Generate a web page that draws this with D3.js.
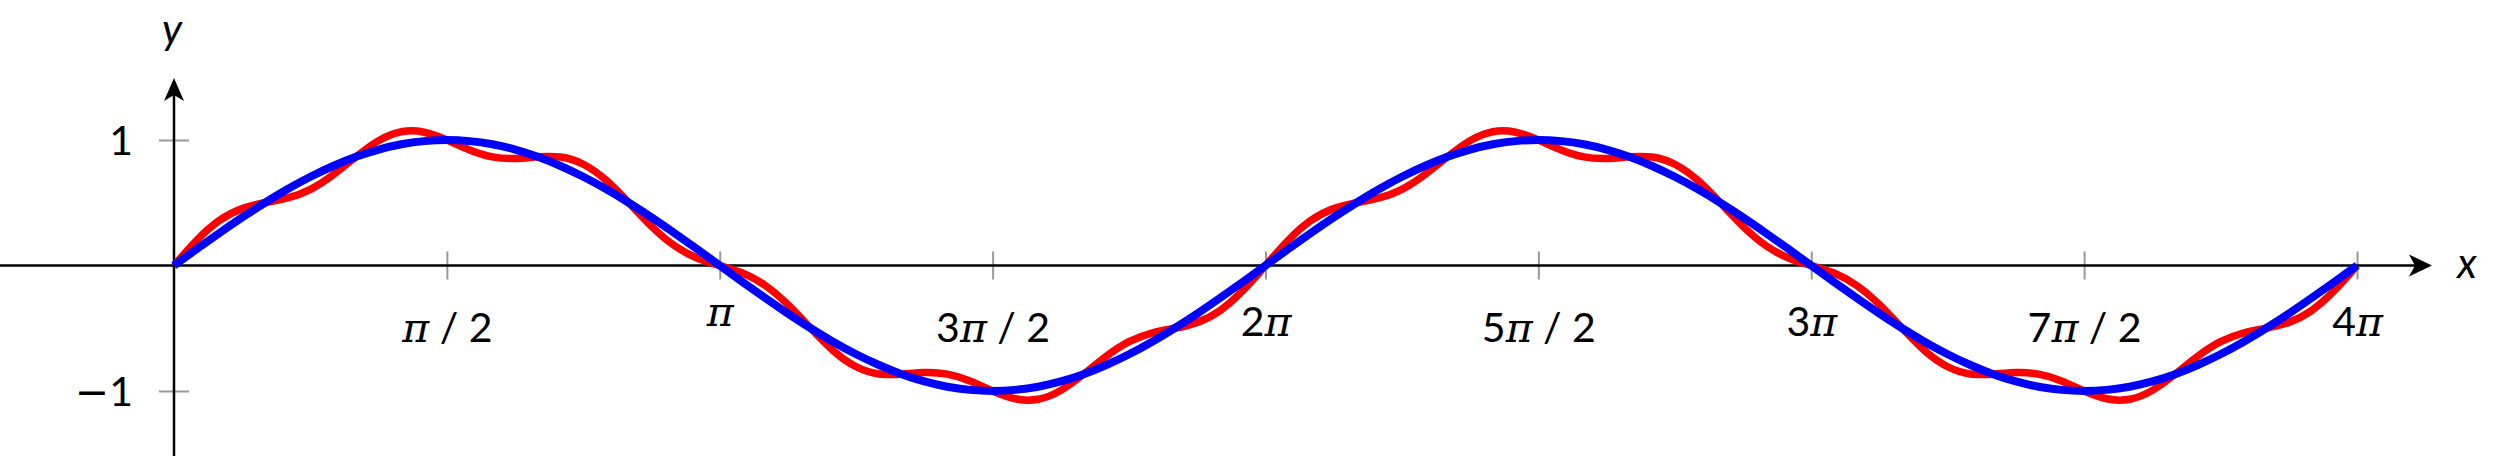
<!DOCTYPE html>
<meta charset="utf-8">
<script src="https://d3js.org/d3.v7.min.js"></script>
<style>
  body { margin: 0; background: #fff; }
  text { font-family: Lato, "Open Sans", sans-serif; fill: #000; }
</style>
<div id="chart"></div>
<script>
// samples every pi/24 from 0 to 4pi
var blueVals = [
  0, 0.131, 0.259, 0.383, 0.5, 0.609, 0.707, 0.793, 0.866, 0.924, 0.966, 0.991, 1, 0.991, 0.966, 0.924, 0.866, 0.793, 0.707, 0.609, 0.5, 0.383, 0.259, 0.131, 0,
  -0.131, -0.259, -0.383, -0.5, -0.609, -0.707, -0.793, -0.866, -0.924, -0.966, -0.991, -1, -0.991, -0.966, -0.924, -0.866, -0.793, -0.707, -0.609, -0.5, -0.383, -0.259, -0.131, 0,
  0.131, 0.259, 0.383, 0.5, 0.609, 0.707, 0.793, 0.866, 0.924, 0.966, 0.991, 1, 0.991, 0.966, 0.924, 0.866, 0.793, 0.707, 0.609, 0.5, 0.383, 0.259, 0.131, 0,
  -0.131, -0.259, -0.383, -0.5, -0.609, -0.707, -0.793, -0.866, -0.924, -0.966, -0.991, -1, -0.991, -0.966, -0.924, -0.866, -0.793, -0.707, -0.609, -0.5, -0.383, -0.259, -0.131, 0
];
var redVals = [
  0, 0.201, 0.359, 0.453, 0.5, 0.538, 0.607, 0.723, 0.866, 0.995, 1.066, 1.062, 1, 0.921, 0.866, 0.853, 0.866, 0.864, 0.807, 0.680, 0.5, 0.312, 0.159, 0.060, 0,
  -0.060, -0.159, -0.312, -0.5, -0.680, -0.807, -0.864, -0.866, -0.853, -0.866, -0.921, -1, -1.062, -1.066, -0.995, -0.866, -0.723, -0.607, -0.538, -0.5, -0.453, -0.359, -0.201, 0,
  0.201, 0.359, 0.453, 0.5, 0.538, 0.607, 0.723, 0.866, 0.995, 1.066, 1.062, 1, 0.921, 0.866, 0.853, 0.866, 0.864, 0.807, 0.680, 0.5, 0.312, 0.159, 0.060, 0,
  -0.060, -0.159, -0.312, -0.5, -0.680, -0.807, -0.864, -0.866, -0.853, -0.866, -0.921, -1, -1.062, -1.066, -0.995, -0.866, -0.723, -0.607, -0.538, -0.5, -0.453, -0.359, -0.201, 0
];
var xTickVals = [0.5, 1, 1.5, 2, 2.5, 3, 3.5, 4];   // multiples of pi
var xTickLabels = ["π / 2", "π", "3π / 2", "2π", "5π / 2", "3π", "7π / 2", "4π"];
var yTickVals = [-1, 1];
var yTickLabels = ["\u22121", "1"];

var W = 2500, H = 456;
var step = Math.PI / 24;

var svg = d3.select("#chart").append("svg")
    .attr("width", W)
    .attr("height", H);

var x = d3.scaleLinear().domain([0, 4 * Math.PI]).range([174, 2357]);
var y = d3.scaleLinear().domain([-1, 1]).range([391, 140]);

var x0 = x(0), y0 = y(0);

// x axis
var xAxis = svg.append("g")
    .attr("transform", "translate(0," + y0 + ")")
    .call(d3.axisBottom(x)
      .tickValues(xTickVals.map(function(d) { return d * Math.PI; }))
      .tickFormat(function(d, i) { return xTickLabels[i]; }));
xAxis.select(".domain").remove();
xAxis.selectAll(".tick line")
    .attr("y1", -14).attr("y2", 14)
    .attr("stroke", "#999").attr("stroke-width", 2);
xAxis.selectAll(".tick text")
    .attr("font-size", 41)
    .attr("dy", null)
    .attr("y", function(d, i) {
      var l = xTickLabels[i];
      if (l.indexOf("/") >= 0) return 76;
      if (l === "π") return 60;
      return 70;
    })
    .each(function(d, i) {
      // pi set slanted like the math font
      var t = d3.select(this), parts = xTickLabels[i].split("π");
      t.text(null);
      parts.forEach(function(p, j) {
        if (j > 0) t.append("tspan").attr("font-style", "italic").attr("font-family", "'DejaVu Serif', serif").text("π");
        if (p) t.append("tspan").text(p);
      });
    });

// y axis
var yAxis = svg.append("g")
    .attr("transform", "translate(" + x0 + ",0)")
    .call(d3.axisLeft(y)
      .tickValues(yTickVals)
      .tickFormat(function(d, i) { return yTickLabels[i]; }));
yAxis.select(".domain").remove();
yAxis.selectAll(".tick line")
    .attr("x1", -15).attr("x2", 15)
    .attr("stroke", "#999").attr("stroke-width", 2);
yAxis.selectAll(".tick text")
    .attr("font-size", 41)
    .attr("x", -41)
    .attr("dy", 14)
    .each(function(d, i) {
      var t = d3.select(this), l = yTickLabels[i];
      if (l.charAt(0) !== "\u2212") return;
      t.text(null);
      t.append("tspan").attr("font-family", "'DejaVu Sans', sans-serif").text("\u2212");
      t.append("tspan").text(l.slice(1));
    });

// axis lines with arrows
var xTip = x(4 * Math.PI) + 75, yTip = 78;
svg.append("line")
    .attr("x1", 0).attr("x2", xTip - 16)
    .attr("y1", y0).attr("y2", y0)
    .attr("stroke", "#000").attr("stroke-width", 2.5);
svg.append("path")
    .attr("d", "M" + xTip + "," + y0 + " L" + (xTip - 23) + "," + (y0 - 11) +
      " L" + (xTip - 17) + "," + y0 + " L" + (xTip - 23) + "," + (y0 + 11) + " Z")
    .attr("fill", "#000");
svg.append("line")
    .attr("x1", x0).attr("x2", x0)
    .attr("y1", H).attr("y2", yTip + 16)
    .attr("stroke", "#000").attr("stroke-width", 2.5);
svg.append("path")
    .attr("d", "M" + x0 + "," + yTip + " L" + (x0 - 10) + "," + (yTip + 23) +
      " L" + x0 + "," + (yTip + 17) + " L" + (x0 + 10) + "," + (yTip + 23) + " Z")
    .attr("fill", "#000");

svg.append("text")
    .attr("x", xTip + 35).attr("y", y0 + 12)
    .attr("font-size", 42).attr("font-style", "italic")
    .attr("text-anchor", "middle")
    .text("x");
svg.append("text")
    .attr("x", x0 - 2).attr("y", 44)
    .attr("font-size", 42).attr("font-style", "italic")
    .attr("text-anchor", "middle")
    .text("y");

// curves
var line = d3.line()
    .x(function(d, i) { return x(i * step); })
    .y(function(d) { return y(d); })
    .curve(d3.curveNatural);

svg.append("path")
    .datum(redVals)
    .attr("fill", "none")
    .attr("stroke", "#ff0000")
    .attr("stroke-width", 7.5)
    .attr("d", line);

svg.append("path")
    .datum(blueVals)
    .attr("fill", "none")
    .attr("stroke", "#0000ff")
    .attr("stroke-width", 8)
    .attr("d", line);
</script>
